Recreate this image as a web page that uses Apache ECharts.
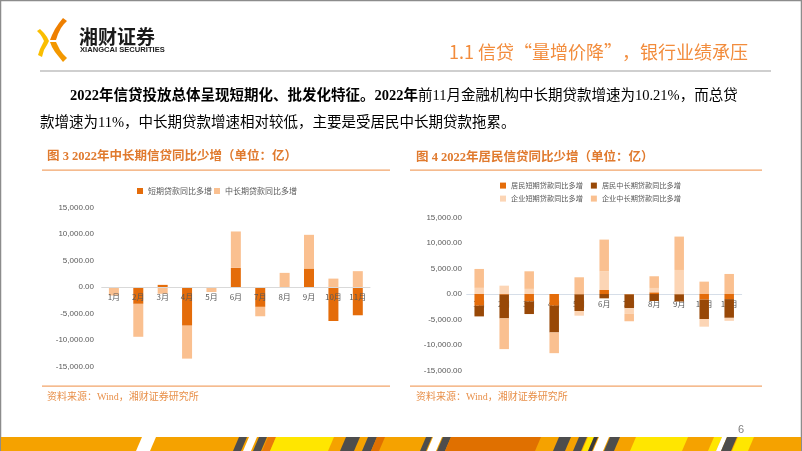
<!DOCTYPE html>
<html><head><meta charset="utf-8">
<script src="https://cdn.jsdelivr.net/npm/echarts@6/dist/echarts.min.js"></script>
<style>html,body{margin:0;padding:0;background:#fff}#c{width:802px;height:451px}</style>
</head><body><div id="c"></div>
<script>
// ---- data ----
const months = ['1月','2月','3月','4月','5月','6月','7月','8月','9月','10月','11月'];
const yTicks = [-15000, -10000, -5000, 0, 5000, 10000, 15000];

// Figure 3: 2022 medium/long-term credit YoY (亿)
const c1Names = ['短期贷款同比多增', '中长期贷款同比多增'];
const c1Short = [-150, -3170, 400, -7280, -100, 3610, -3740, 0, 3480, -6400, -5320];
const c1Long  = [-1450, -6200, -1270, -6200, -850, 6840, -1770, 2660, 6340, 1580, 2980];

// Figure 4: 2022 household credit YoY (亿)
const c2Names = ['居民短期贷款同比多增', '居民中长期贷款同比多增', '企业短期贷款同比多增', '企业中长期贷款同比多增'];
const c2HhShort  = [-2290, -150, -1440, -2290, -100, 780, -100, 330, -100, -1100, -1000];
const c2HhLong   = [-2090, -4620, -2480, -5230, -3230, -850, -2680, -1370, -1370, -3790, -3660];
const c2EntShort = [1200, 1630, 1000, 0, -910, 3660, -1110, 850, 4700, -1500, -590];
const c2EntLong  = [3700, -6010, 3440, -4050, 3270, 6200, -1440, 2290, 6530, 2420, 3920];

// ---- helpers ----
function fmt(v) {
  const a = Math.abs(v);
  const ip = Math.floor(a).toString().replace(/\B(?=(\d{3})+$)/g, ',');
  return (v < 0 ? '-' : '') + ip + '.' + (a.toFixed(2).split('.')[1]);
}
const CJK = '"Noto Sans CJK SC", sans-serif';
const SERIF = '"Liberation Serif", "Noto Sans CJK SC", serif';
const gray = '#595959';

const colors1 = ['#E46C0A', '#FAC090'];
const colors2 = ['#E46C0A', '#984807', '#FCD5B5', '#FAC090'];

const grids = [
  { left: 101.7, top: 207.3, width: 268.3, height: 159.4 },
  { left: 466.7, top: 217.3, width: 275, height: 153.4 }
];

function yAxis(gi, margin) {
  return {
    gridIndex: gi, type: 'value', min: yTicks[0], max: yTicks[yTicks.length - 1], interval: 5000,
    axisLine: { show: false }, axisTick: { show: false }, splitLine: { show: false },
    axisLabel: { formatter: fmt, fontSize: 8, color: gray, margin: margin, fontFamily: 'Liberation Sans, sans-serif' }
  };
}
// category axis placed on the zero line (range is symmetric, so zero sits at mid-height)
function xAxis(gi, z, lineColor) {
  return {
    gridIndex: gi, type: 'category', data: months, z: z, position: 'bottom',
    offset: -grids[gi].height / 2,
    axisLine: { show: true, onZero: false, lineStyle: { color: lineColor, width: 1 } },
    axisTick: { show: false }, splitLine: { show: false },
    axisLabel: { fontSize: 8, color: gray, margin: 6, fontFamily: CJK }
  };
}
function bar(name, data, color, xi, stack, bw) {
  return { name: name, type: 'bar', data: data, xAxisIndex: xi, yAxisIndex: xi, stack: stack,
    barWidth: bw, itemStyle: { color: color }, emphasis: { disabled: true }, animation: false };
}
function legendCfg(left, top, names, fs, gap) {
  return { left: left, top: top, padding: 0, itemWidth: 6, itemHeight: 6, itemGap: gap, icon: 'rect',
    data: names, selectedMode: false, textStyle: { fontSize: fs, color: gray, fontFamily: CJK } };
}
function txt(text, x, y, font, fill, align) {
  return { type: 'text', silent: true, style: { text: text, x: x, y: y, font: font, fill: fill,
    align: align || 'left', verticalAlign: 'middle' } };
}
function poly(points, fill) {
  return { type: 'polygon', silent: true, shape: { points: points }, style: { fill: fill } };
}

// ---- bottom stripe segments [x, width, colour] ----
const stripe = [
  [136, 14, '#ffffff'], [233, 8, '#4d4d4d'], [243, 8, '#ffffff'], [253, 8, '#4d4d4d'], [262, 8, '#E87A0A'],
  [270, 58, '#FFE600'], [340, 14, '#4d4d4d'], [362, 9, '#4d4d4d'], [371, 8, '#E07000'],
  [420, 6, '#4d4d4d'], [427, 9, '#ffffff'], [437, 8, '#4d4d4d'], [445, 90, '#E07000'],
  [553, 12, '#4d4d4d'], [573, 8, '#4d4d4d'], [582, 6, '#FFE600'], [588, 4, '#3a3a3a'], [593, 10, '#ffffff'],
  [604, 10, '#4d4d4d'], [630, 52, '#FFE600'], [708, 8, '#FFE600'], [716, 5, '#ffffff'], [721, 10, '#4d4d4d'], [732, 16, '#FFE600']
];

const graphics = [
  { type: 'rect', silent: true, z: -10, shape: { x: 0.5, y: 0.5, width: 801, height: 450 }, style: { fill: '#fff', stroke: '#8c8c8c', lineWidth: 1.5 } },
  // logo mark
  poly([[63, 18], [59, 23], [55, 29], [52, 35], [50, 40], [56, 40], [58, 34], [61, 28], [64, 24], [67, 21]], '#EE7F00'),
  poly([[50, 42], [52, 47], [55, 52], [59, 57], [63, 62], [67, 58], [63, 54], [60, 50], [58, 46], [56, 42]], '#F39800'),
  poly([[40, 29], [44, 33], [47, 37], [49, 41], [47, 45], [44, 50], [42, 57], [38, 55], [40, 49], [42, 45], [44, 41], [42, 37], [40, 34], [37, 31]], '#FABE00'),
  txt('湘财证券', 79, 37, 'bold 19px ' + CJK, '#1a1a1a'),
  txt('XIANGCAI SECURITIES', 80, 49.5, 'bold 7.6px "Liberation Sans", sans-serif', '#1a1a1a'),
  // title
  txt('1.1 信贷“量增价降”，银行业绩承压', 748, 52, '18px ' + CJK, '#F28C3C', 'right'),
  { type: 'rect', silent: true, shape: { x: 40, y: 70, width: 731, height: 2 }, style: { fill: '#CFCFCF' } },
  // paragraph
  { type: 'text', silent: true, style: {
      text: '{b|2022年信贷投放总体呈现短期化、批发化特征。2022年}{n|前11月金融机构中长期贷款增速为10.21%，而总贷}',
      x: 70, y: 96, verticalAlign: 'middle', fill: '#000',
      rich: { b: { font: 'bold 14.5px ' + SERIF, fill: '#000' }, n: { font: '14.5px ' + SERIF, fill: '#000' } } } },
  txt('款增速为11%，中长期贷款增速相对较低，主要是受居民中长期贷款拖累。', 40, 123, '14.5px ' + SERIF, '#000'),
  // chart titles and rules
  txt('图 3 2022年中长期信贷同比少增（单位：亿）', 47, 157, 'bold 12.5px ' + SERIF, '#E07A2E'),
  txt('图 4 2022年居民信贷同比少增（单位：亿）', 416, 158, 'bold 12.5px ' + SERIF, '#E07A2E'),
  { type: 'rect', silent: true, shape: { x: 42, y: 169.5, width: 348, height: 1.2 }, style: { fill: '#F2A46A' } },
  { type: 'rect', silent: true, shape: { x: 410, y: 169.5, width: 352, height: 1.2 }, style: { fill: '#F2A46A' } },
  { type: 'rect', silent: true, shape: { x: 42, y: 385.5, width: 348, height: 1.2 }, style: { fill: '#F2A46A' } },
  { type: 'rect', silent: true, shape: { x: 410, y: 385.5, width: 352, height: 1.2 }, style: { fill: '#F2A46A' } },
  txt('资料来源：Wind，湘财证券研究所', 47, 397, '10px ' + SERIF, '#E8904A'),
  txt('资料来源：Wind，湘财证券研究所', 416, 397, '10px ' + SERIF, '#E8904A'),
  txt('6', 738, 430, '11px "Liberation Sans", sans-serif', '#808080'),
  // bottom stripe base
  { type: 'rect', silent: true, shape: { x: 1, y: 437, width: 800, height: 14 }, style: { fill: '#F5A200' } }
];
stripe.forEach(function (s) {
  const x = s[0], w = s[1], sl = 6;
  graphics.push(poly([[x, 451], [x + w, 451], [x + w + sl, 437], [x + sl, 437]], s[2]));
});

const option = {
  backgroundColor: '#fff',
  animation: false,
  grid: grids,
  xAxis: [xAxis(0, 3, '#D9D9D9'), xAxis(1, 0, '#D6DEE8')],
  yAxis: [yAxis(0, 7.7), yAxis(1, 4.7)],
  legend: [
    legendCfg(137, 187, c1Names, 8, 2),
    legendCfg(500, 182, c2Names.slice(0, 2), 7.2, 8),
    legendCfg(500, 195, c2Names.slice(2, 4), 7.2, 8)
  ],
  series: [
    bar(c1Names[0], c1Short, colors1[0], 0, 'a', 10),
    bar(c1Names[1], c1Long, colors1[1], 0, 'a', 10),
    bar(c2Names[0], c2HhShort, colors2[0], 1, 'b', 9.5),
    bar(c2Names[1], c2HhLong, colors2[1], 1, 'b', 9.5),
    bar(c2Names[2], c2EntShort, colors2[2], 1, 'b', 9.5),
    bar(c2Names[3], c2EntLong, colors2[3], 1, 'b', 9.5)
  ],
  graphic: { elements: graphics }
};
const chart = echarts.init(document.getElementById('c'), null, { renderer: 'canvas' });
chart.setOption(option);
</script></body></html>
